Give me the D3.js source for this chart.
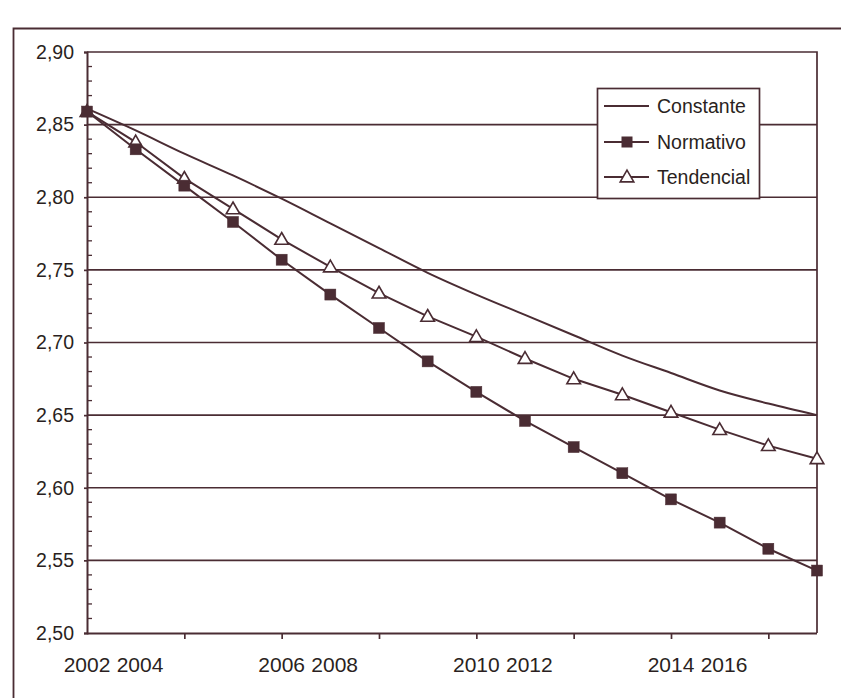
<!DOCTYPE html>
<html>
<head>
<meta charset="utf-8">
<script src="https://cdn.jsdelivr.net/npm/d3@7"></script>
<style>
html,body{margin:0;padding:0;background:#fff;}
svg{display:block;font-family:"Liberation Sans",Arial,sans-serif;}
</style>
</head>
<body>
<svg id="chart" width="841" height="698"></svg>
<script>
const years = [2002,2003,2004,2005,2006,2007,2008,2009,2010,2011,2012,2013,2014,2015,2016,2017];
const constante  = [2.861,2.846,2.830,2.815,2.799,2.782,2.765,2.748,2.733,2.719,2.705,2.691,2.679,2.667,2.658,2.650];
const normativo  = [2.859,2.833,2.808,2.783,2.757,2.733,2.710,2.687,2.666,2.646,2.628,2.610,2.592,2.576,2.558,2.543];
const tendencial = [2.859,2.838,2.813,2.792,2.771,2.752,2.734,2.718,2.704,2.689,2.675,2.664,2.652,2.640,2.629,2.620];
const seriesNames = ["Constante","Normativo","Tendencial"];
const yTicks = [2.50,2.55,2.60,2.65,2.70,2.75,2.80,2.85,2.90];
const xTickYears = [2002,2004,2006,2008,2010,2012,2014,2016];
const xTickLabels = ["2002","2004","2006","2008","2010","2012","2014","2016"];

const ink = "#4a2c33";
const txt = "#2a1f21";
const svg = d3.select("#chart");
const L = 87, R = 817, T = 52, B = 633;
const x = d3.scaleLinear().domain([2002,2017]).range([L,R]);
const y = d3.scaleLinear().domain([2.50,2.90]).range([B,T]);

// outer frame
svg.append("path").attr("d",`M13.5,698 V28.5 H841`).attr("fill","none").attr("stroke",ink).attr("stroke-width",1.8);

// gridlines
svg.append("g").selectAll("line").data(yTicks.filter(v=>v>2.5 && v<2.9)).join("line")
  .attr("x1",L).attr("x2",R).attr("y1",d=>y(d)).attr("y2",d=>y(d))
  .attr("stroke",ink).attr("stroke-width",1.7);

// plot frame top & right
svg.append("path").attr("d",`M${L},${y(2.9)} H${R} V${B}`).attr("fill","none").attr("stroke",ink).attr("stroke-width",1.7);

// y axis
const fmt = d => d.toFixed(2).replace(".",",");
const yAxis = d3.axisLeft(y).tickValues(yTicks).tickFormat(fmt).tickSize(3).tickPadding(10);
const gy = svg.append("g").attr("transform",`translate(${L},0)`).call(yAxis);
gy.select(".domain").attr("stroke",ink).attr("stroke-width",2);
gy.selectAll(".tick line").attr("stroke",ink).attr("stroke-width",1.7);
gy.selectAll(".tick text").attr("fill",txt).attr("font-size",19.5);
// minor ticks inside
const minor = d3.range(0,41).map(i=>2.5+i*0.01).filter((v,i)=>i%5!==0);
svg.append("g").selectAll("line").data(minor).join("line")
  .attr("x1",L).attr("x2",L+5).attr("y1",d=>y(d)).attr("y2",d=>y(d))
  .attr("stroke",ink).attr("stroke-width",1.3);

// x axis
const xAxis = d3.axisBottom(x).tickValues(xTickYears).tickFormat("").tickSize(6);
const gx = svg.append("g").attr("transform",`translate(0,${B})`).call(xAxis);
gx.select(".domain").attr("stroke",ink).attr("stroke-width",2).attr("d",`M${L},0.5H${R}`);
gx.selectAll(".tick line").attr("stroke",ink).attr("stroke-width",1.7)
  .attr("display",d=>d===2002?"none":null);
// labels: paired placement as in original
svg.append("g").selectAll("text").data(xTickYears).join("text")
  .attr("x",(d,i)=> i%2===0 ? x(d) : x(xTickYears[i-1]) + 53)
  .attr("y",672).attr("text-anchor","middle").attr("fill",txt).attr("font-size",21)
  .text((d,i)=>xTickLabels[i]);

// lines
const line = d3.line().x((d,i)=>x(years[i])).y(d=>y(d));
svg.append("path").datum(constante).attr("d",line.curve(d3.curveMonotoneX))
  .attr("fill","none").attr("stroke",ink).attr("stroke-width",2);
const line2 = d3.line().x((d,i)=>x(years[i])).y(d=>y(d));
svg.append("path").datum(tendencial).attr("d",line2)
  .attr("fill","none").attr("stroke",ink).attr("stroke-width",2);
svg.append("path").datum(normativo).attr("d",line2)
  .attr("fill","none").attr("stroke",ink).attr("stroke-width",2);

// markers
const tri = d3.symbol().type(d3.symbolTriangle).size(80);
svg.append("g").selectAll("path").data(tendencial).join("path")
  .attr("d",tri).attr("transform",(d,i)=>`translate(${x(years[i])},${y(d)+1})`)
  .attr("fill","#fff").attr("stroke",ink).attr("stroke-width",1.6);
svg.append("g").selectAll("rect").data(normativo).join("rect")
  .attr("x",(d,i)=>x(years[i])-5.5).attr("y",d=>y(d)-5.5).attr("width",11).attr("height",11)
  .attr("fill",ink).attr("stroke",ink).attr("stroke-width",0.5);

// legend
const lg = svg.append("g");
lg.append("rect").attr("x",597.5).attr("y",88.5).attr("width",162).attr("height",110)
  .attr("fill","#fff").attr("stroke",ink).attr("stroke-width",1.7);
const ly = [106,142,177];
seriesNames.forEach((n,i)=>{
  lg.append("line").attr("x1",604).attr("x2",649).attr("y1",ly[i]).attr("y2",ly[i])
    .attr("stroke",ink).attr("stroke-width",2);
  if(i===1) lg.append("rect").attr("x",621.5).attr("y",ly[i]-5.5).attr("width",11).attr("height",11).attr("fill",ink);
  if(i===2) lg.append("path").attr("d",tri).attr("transform",`translate(627,${ly[i]+1})`)
    .attr("fill","#fff").attr("stroke",ink).attr("stroke-width",1.6);
  lg.append("text").attr("x",657).attr("y",ly[i]).attr("dy","0.35em")
    .attr("fill",txt).attr("font-size",19.5).text(n);
});
</script>
</body>
</html>
